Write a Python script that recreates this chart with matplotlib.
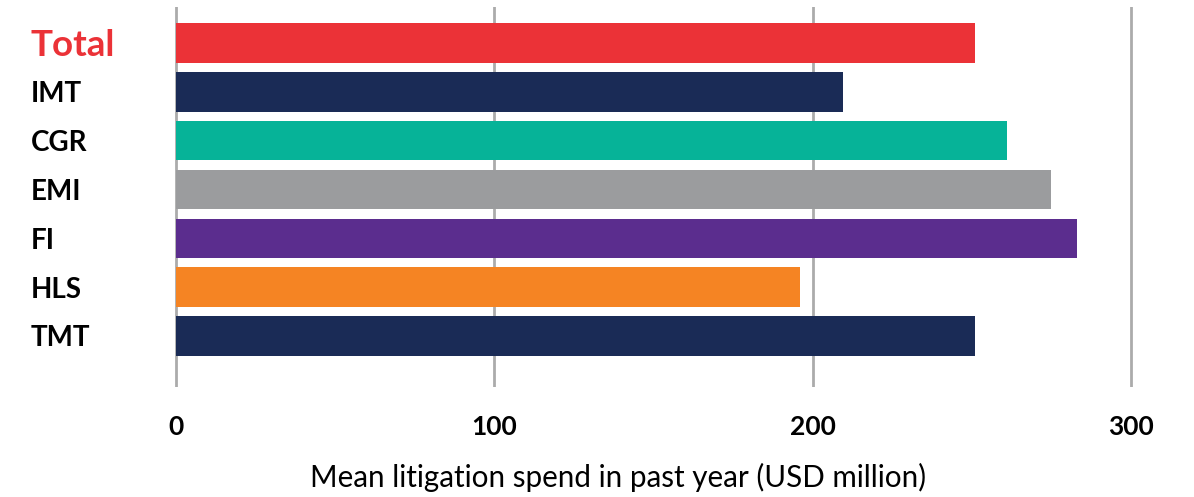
import matplotlib.pyplot as plt

plt.rcParams['font.family'] = ['Lato', 'DejaVu Sans']

categories = ['Total', 'IMT', 'CGR', 'EMI', 'FI', 'HLS', 'TMT']
values = [251, 209.5, 261, 275, 283, 196, 251]
colors = ['#EB3237', '#1A2B56', '#06B398', '#9B9C9E', '#5B2D8E', '#F58423', '#1A2B56']
xticks = [0, 100, 200, 300]

W, H = 1194, 497
fig = plt.figure(figsize=(W / 100, H / 100), dpi=100)
left, right, top, bottom = 169.6, 1137.4, 7, 387
ax = fig.add_axes([left / W, 1 - bottom / H, (right - left) / W, (bottom - top) / H])

ypos = list(range(len(categories)))
ax.barh(ypos, values, height=0.81, color=colors, zorder=2)

ax.set_xlim(-2, 302)
ax.set_ylim(6 + 1.045, -0.737)
ax.set_xticks(xticks)
ax.set_xticklabels([str(x) for x in xticks], fontsize=19, fontweight='bold')
ax.set_yticks(ypos)
ax.set_yticklabels(categories, fontsize=20, fontweight='bold')
ax.tick_params(axis='y', length=0, pad=99.8)
ax.tick_params(axis='x', length=0, pad=20)
for lab in ax.get_yticklabels():
    lab.set_horizontalalignment('left')
tot = ax.get_yticklabels()[0]
tot.set_color('#EB3237')
tot.set_fontsize(26.5)

ax.grid(axis='x', color='#ABABAB', linewidth=2, zorder=0)
for s in ax.spines.values():
    s.set_visible(False)

ax.set_xlabel('Mean litigation spend in past year (USD million)', fontsize=21.3)
ax.xaxis.set_label_coords(0.4638, -0.2)

fig.savefig('out.png', dpi=100)
